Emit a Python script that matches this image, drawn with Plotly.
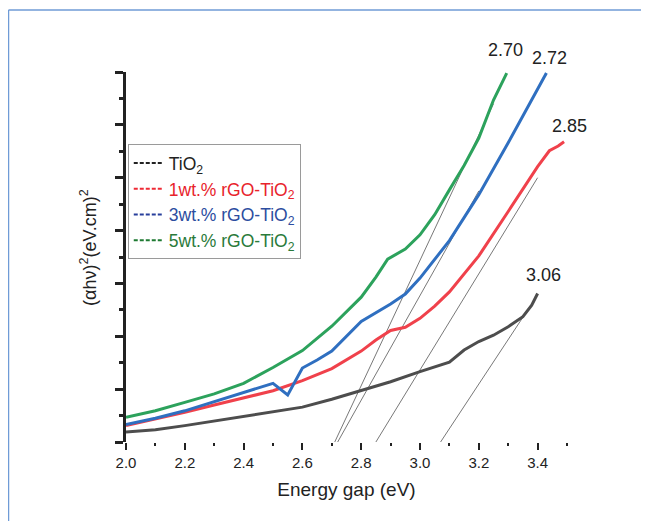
import plotly.graph_objects as go

# ---------------- data ----------------
E_tio2 = [2.00, 2.10, 2.20, 2.30, 2.40, 2.50, 2.60, 2.70, 2.80, 2.90, 3.00, 3.05, 3.10, 3.15, 3.20, 3.25, 3.30, 3.35, 3.38, 3.40]
A_tio2 = [0.19, 0.23, 0.31, 0.40, 0.49, 0.57, 0.66, 0.81, 0.97, 1.14, 1.33, 1.42, 1.51, 1.74, 1.90, 2.02, 2.18, 2.37, 2.59, 2.81]

E_1wt = [2.00, 2.10, 2.20, 2.30, 2.40, 2.50, 2.60, 2.70, 2.80, 2.85, 2.90, 2.95, 3.00, 3.05, 3.10, 3.20, 3.30, 3.40, 3.44, 3.47, 3.49]
A_1wt = [0.31, 0.43, 0.56, 0.70, 0.84, 0.97, 1.16, 1.39, 1.72, 1.93, 2.11, 2.17, 2.34, 2.57, 2.84, 3.52, 4.36, 5.21, 5.51, 5.60, 5.68]

E_3wt = [2.00, 2.10, 2.20, 2.30, 2.40, 2.50, 2.55, 2.60, 2.65, 2.70, 2.80, 2.90, 2.95, 3.00, 3.10, 3.20, 3.30, 3.40, 3.43]
A_3wt = [0.33, 0.45, 0.59, 0.76, 0.93, 1.11, 0.89, 1.40, 1.55, 1.72, 2.28, 2.61, 2.80, 3.10, 3.81, 4.68, 5.66, 6.66, 6.98]

E_5wt = [2.00, 2.10, 2.20, 2.30, 2.40, 2.50, 2.60, 2.70, 2.80, 2.85, 2.89, 2.95, 3.00, 3.05, 3.10, 3.15, 3.20, 3.25, 3.295]
A_5wt = [0.47, 0.59, 0.75, 0.91, 1.11, 1.41, 1.73, 2.19, 2.74, 3.12, 3.46, 3.65, 3.92, 4.30, 4.77, 5.23, 5.75, 6.47, 6.98]

# Tauc-plot tangent lines: x-intercept and upper end point
tangent_E0 = [3.07, 2.85, 2.72, 2.71]
tangent_E1 = [3.35, 3.40, 3.20, 3.25]
tangent_A1 = [2.36, 5.00, 4.75, 6.40]

gap_labels = ["3.06", "2.85", "2.72", "2.70"]

series_names = ["TiO<sub>2</sub>", "1wt.% rGO-TiO<sub>2</sub>",
                "3wt.% rGO-TiO<sub>2</sub>", "5wt.% rGO-TiO<sub>2</sub>"]

x_ticks = [2.0, 2.2, 2.4, 2.6, 2.8, 3.0, 3.2, 3.4]

# ---------------- styling ----------------
FONT = "Liberation Sans, Arial, Helvetica, sans-serif"
curve_colors = ["#4d4d4d", "#f0414b", "#2f6fc0", "#2ca25c"]
legend_line_colors = ["#222222", "#ee2a35", "#283f9c", "#1e7a32"]
legend_text_colors = ["#222222", "#e8232b", "#2c4da0", "#2a7a3a"]
label_shift = [(6, 18), (5, 16), (3, 15), (-1, 23)]

fig = go.Figure()

all_E = [E_tio2, E_1wt, E_3wt, E_5wt]
all_A = [A_tio2, A_1wt, A_3wt, A_5wt]

# tangent lines
for e0, e1, a1 in zip(tangent_E0, tangent_E1, tangent_A1):
    fig.add_trace(go.Scatter(x=[e0, e1], y=[0, a1], mode="lines",
                             line=dict(color="#555555", width=0.8),
                             showlegend=False, hoverinfo="skip"))

# curves
for E, A, c in zip(all_E, all_A, curve_colors):
    fig.add_trace(go.Scatter(x=E, y=A, mode="lines",
                             line=dict(color=c, width=3),
                             showlegend=False))

# legend entries (short dashes)
for i, (name, lc, tc) in enumerate(zip(series_names, legend_line_colors, legend_text_colors)):
    fig.add_trace(go.Scatter(x=[None], y=[None], mode="lines",
                             legendgroup=f"g{i}",
                             line=dict(color=lc, width=2, dash="4px,2px"),
                             name=f'<span style="color:{tc}">{name}</span>'))

# gap labels at curve ends
for E, A, lab, (dx, dy) in zip(all_E, all_A, gap_labels, label_shift):
    fig.add_annotation(x=E[-1], y=A[-1], text=lab, showarrow=False,
                       xshift=dx, yshift=dy, xanchor="center", yanchor="middle",
                       font=dict(size=18, color="#222222", family=FONT))

# y-axis title (as rotated annotation for exact placement)
fig.add_annotation(xref="paper", yref="paper", x=(88 - 126) / 441, y=(442 - 248) / 370,
                   text="(αhν)<sup>2</sup>(eV.cm)<sup>2</sup>", textangle=-90,
                   showarrow=False, xanchor="center", yanchor="middle",
                   font=dict(size=18, color="#222222", family=FONT))

# frame (partial blue border)
x_left = (8.5 - 126) / 441
y_top = (442 - 10) / 370
fig.add_shape(type="line", xref="paper", yref="paper", x0=x_left, x1=x_left,
              y0=-0.3, y1=y_top, line=dict(color="#6f9bd6", width=1.5))
fig.add_shape(type="line", xref="paper", yref="paper", x0=x_left, x1=1.3,
              y0=y_top, y1=y_top, line=dict(color="#6f9bd6", width=1.5))

fig.update_layout(
    width=641, height=513,
    margin=dict(l=118, r=82, t=64, b=79),
    paper_bgcolor="white", plot_bgcolor="white",
    font=dict(family=FONT, color="#222222"),
    showlegend=True,
    legend=dict(x=0.004, y=0.805, xanchor="left", yanchor="top",
                bgcolor="white", bordercolor="#9a9a9a", borderwidth=1,
                font=dict(size=17.5, family=FONT), tracegroupgap=0,
                itemwidth=30),
    xaxis=dict(range=[2.0, 3.5], showline=False, showgrid=False, zeroline=False,
               tickmode="array", tickvals=x_ticks,
               ticktext=[f"{v:.1f}" for v in x_ticks],
               ticks="outside", ticklen=7, tickwidth=2, tickcolor="#222222",
               minor=dict(dtick=0.2, tick0=2.1, ticks="outside", ticklen=3,
                          tickwidth=2, tickcolor="#222222"),
               tickfont=dict(size=15, family=FONT, color="#222222"),
               title=dict(text="Energy gap (eV)", font=dict(size=19, family=FONT),
                          standoff=12)),
    yaxis=dict(range=[0, 7], showline=True, linecolor="#222222", linewidth=3,
               showgrid=False, zeroline=False, dtick=1, tick0=0,
               ticks="outside", ticklen=8, tickwidth=2.5, tickcolor="#222222",
               minor=dict(dtick=0.5, ticks="outside", ticklen=4, tickwidth=2.5,
                          tickcolor="#222222"),
               showticklabels=False),
)

fig.write_html("out.html")
